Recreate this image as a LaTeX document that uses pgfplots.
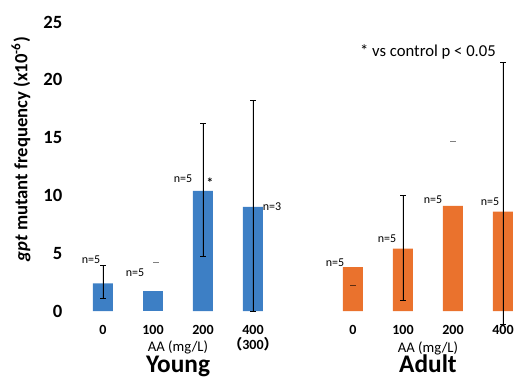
\documentclass[border=0pt]{standalone}
\usepackage{fontspec}
\setmainfont{Carlito}
\newfontfamily\cjk{Noto Sans CJK JP}
\usepackage{pgfplots}
\pgfplotsset{compat=1.18}
\definecolor{youngblue}{RGB}{61,127,197}
\definecolor{adultorange}{RGB}{234,114,45}

\begin{document}
\begin{tikzpicture}[x=1pt,y=1pt]
\path[use as bounding box] (-51,-51.75) rectangle (336,233.25);
\begin{axis}[
  at={(0,0)}, anchor=south west,
  scale only axis, width=335.6pt, height=216.75pt,
  xmin=-0.7, xmax=8.25, ymin=0, ymax=25,
  clip=false,
  axis line style={draw=none},
  major tick length=0pt,
  ytick={0,5,10,15,20,25},
  xtick={0,1,2,3,5,6,7,8},
  xticklabels={0,100,200,400,0,100,200,400},
  /pgf/number format/assume math mode=true,
  yticklabel style={font=\bfseries\fontsize{14}{15}\selectfont, anchor=east, inner sep=0pt, xshift=-4pt},
  xticklabel style={font=\bfseries\fontsize{10.5}{12}\selectfont, anchor=north, inner sep=0pt, yshift=-10.5pt},
  bar width=0.4, bar shift=0pt,
]
% Young group
\addplot[ybar, fill=youngblue, draw=none,
  error bars/.cd, y dir=both, y explicit, error mark=|,
  error bar style={black, line width=0.7pt},
  error mark options={black, line width=0.7pt, mark size=2.2pt}]
  coordinates {(0,2.4) += (0,1.5) -= (0,1.3)
               (2,10.4) += (0,5.8) -= (0,5.7)
               (3,9.0) += (0,9.2) -= (0,9.0)};
\addplot[ybar, fill=youngblue, draw=none] coordinates {(1,1.7)};
% Adult group
\addplot[ybar, fill=adultorange, draw=none,
  error bars/.cd, y dir=both, y explicit, error mark=|,
  error bar style={black, line width=0.7pt},
  error mark options={black, line width=0.7pt, mark size=2.2pt}]
  coordinates {(6,5.4) += (0,4.6) -= (0,4.45)
               (8,8.6) += (0,12.9) -= (0,9.8)};
\addplot[ybar, fill=adultorange, draw=none] coordinates {(5,3.8) (7,9.1)};
% stray caps
\addplot[only marks, mark=-, mark size=2pt, gray] coordinates {(1.06,4.2) (7,14.7)};
\addplot[only marks, mark=-, mark size=2pt, black!60!adultorange] coordinates {(5,2.2)};

% y-axis title
\node[rotate=90, font=\bfseries\fontsize{14}{15}\selectfont, inner sep=0pt]
  at (axis cs:-1.64,14.0) {\textit{gpt} mutant frequency (x10\textsuperscript{-6})};

% sample sizes
\begin{scope}[every node/.style={font=\fontsize{9}{10}\selectfont, inner sep=0pt}]
\node at (axis cs:-0.24,4.41) {n=5};
\node at (axis cs:0.64,3.29) {n=5};
\node at (axis cs:1.6,11.42) {n=5};
\node at (axis cs:3.38,9.0) {n=3};
\node at (axis cs:4.64,4.15) {n=5};
\node at (axis cs:5.68,6.23) {n=5};
\node at (axis cs:6.6,9.6) {n=5};
\node at (axis cs:7.74,9.43) {n=5};
\end{scope}
\node[font=\bfseries\fontsize{10}{10}\selectfont, inner sep=0pt] at (axis cs:2.14,11.1) {*};
\node[font=\fontsize{12.5}{14}\selectfont, inner sep=0pt] at (axis cs:6.5,22.4) {* vs control p < 0.05};

% group captions
\node[font=\fontsize{11}{12}\selectfont, inner sep=0pt] at (axis cs:1.5,-3.11) {AA (mg/L)};
\node[font=\fontsize{11}{12}\selectfont, inner sep=0pt] at (axis cs:6.5,-3.2) {AA (mg/L)};
\node[font=\bfseries\fontsize{10.5}{12}\selectfont, inner sep=0pt] at (axis cs:3,-2.85) {{\cjk （}300{\cjk ）}};
\node[font=\bfseries\fontsize{19}{20}\selectfont, inner sep=0pt, anchor=base] at (axis cs:1.5,-5.36) {Young};
\node[font=\bfseries\fontsize{19}{20}\selectfont, inner sep=0pt, anchor=base] at (axis cs:6.5,-5.36) {Adult};
\end{axis}
\end{tikzpicture}
\end{document}
